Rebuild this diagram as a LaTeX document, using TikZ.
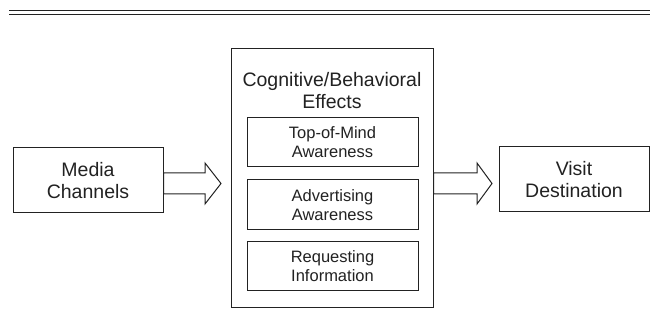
\documentclass[tikz,border=0pt]{standalone}
\usepackage{fontspec}
\setmainfont{Liberation Sans}
\usetikzlibrary{calc}
\definecolor{ink}{HTML}{222222}
\tikzset{
  box/.style={draw=ink, line width=1pt, fill=white, inner sep=0pt},
  bigtxt/.style={text=ink, align=center, font=\fontsize{19.5}{22}\selectfont},
  smalltxt/.style={text=ink, align=center, font=\fontsize{16.5}{19}\selectfont},
  fatarrow/.style={draw=ink, line width=1pt, fill=white, line join=miter},
  rule/.style={draw=ink, line width=1.3pt}
}
\begin{document}
\begin{tikzpicture}[x=1pt,y=-1pt]
\useasboundingbox (0,0) rectangle (650,328);
% top double rule
\coordinate (r1a) at (9,10.3); \coordinate (r1b) at (650,10.3);
\coordinate (r2a) at (9,14.5); \coordinate (r2b) at (650,14.5);
\draw[rule] (r1a) -- (r1b);
\draw[rule] (r2a) -- (r2b);
% boxes
\node[box, minimum width=150, minimum height=65] (media) at (88,180.5) {};
\node[bigtxt] (mediat) at (media.center) {Media\\Channels};
\node[box, minimum width=202, minimum height=259] (cog) at (332,178.5) {};
\node[bigtxt] (cogt) at (332,91) {Cognitive/Behavioral\\Effects};
\node[box, minimum width=171, minimum height=49] (tom) at (332.5,142.5) {};
\node[smalltxt] at (tom.center) {Top-of-Mind\\Awareness};
\node[box, minimum width=171, minimum height=50] (adv) at (332.5,205) {};
\node[smalltxt] at (adv.center) {Advertising\\Awareness};
\node[box, minimum width=171, minimum height=49] (req) at (332.5,266.5) {};
\node[smalltxt] at (req.center) {Requesting\\Information};
\node[box, minimum width=150, minimum height=65] (visit) at (574,179.5) {};
\node[bigtxt] at (visit.center) {Visit\\Destination};
% block arrows
\draw[fatarrow] (media.east |- 0,173) -- (205,173) -- (205,163) -- (221,183.5)
  -- (205,204) -- (205,194) -- (media.east |- 0,194) -- cycle;
\draw[fatarrow] (cog.east |- 0,173) -- (477,173) -- (477,163) -- (492,183.5)
  -- (477,204) -- (477,194) -- (cog.east |- 0,194) -- cycle;
\end{tikzpicture}
\end{document}
